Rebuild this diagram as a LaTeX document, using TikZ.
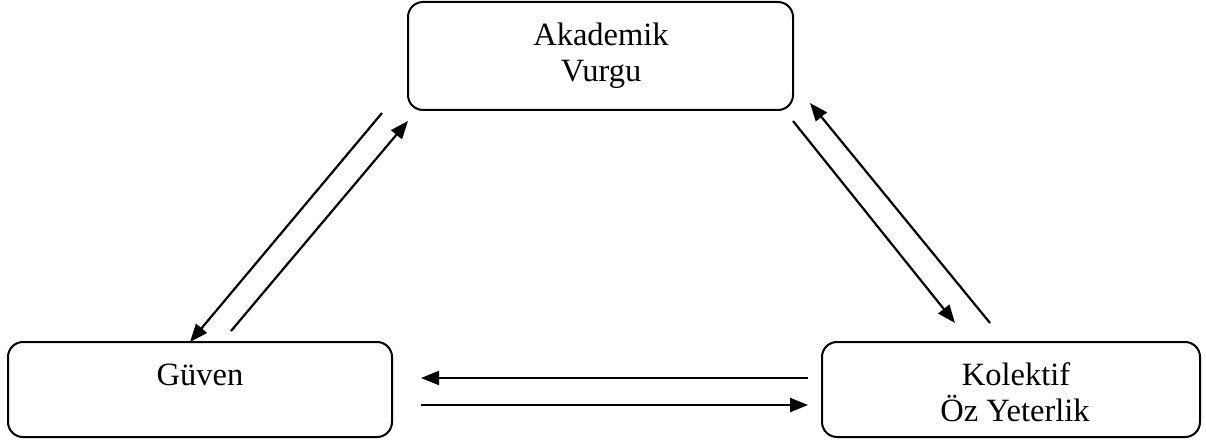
\documentclass[tikz,border=0pt]{standalone}
\usepackage{fontspec}
\setmainfont{Liberation Serif}
\usetikzlibrary{arrows.meta}
\begin{document}
\begin{tikzpicture}[x=1pt,y=-1pt,
  boxstyle/.style={draw, line width=2pt, rounded corners=15pt, inner sep=0pt},
  txt/.style={anchor=base, inner sep=0pt, font=\fontsize{32.5}{37}\selectfont},
  conn/.style={line width=2.2pt, -{Triangle[length=18pt,width=14pt]}}]
\useasboundingbox (0,0) rectangle (1206,443);
% boxes
\node[boxstyle, minimum width=385pt, minimum height=108pt] (ak) at (600.5,56) {};
\node[boxstyle, minimum width=384pt, minimum height=95pt] (gu) at (200,389.5) {};
\node[boxstyle, minimum width=378pt, minimum height=95pt] (ko) at (1011,389.5) {};
% texts
\node[txt] (ak1) at (601,46) {Akademik};
\node[txt] (ak2) at (601,82) {Vurgu};
\node[txt] (gu1) at (200,385) {Güven};
\node[txt] (ko1) at (1016,385) {Kolektif};
\node[txt] (ko2) at (1015,421.5) {Öz Yeterlik};
% connector end points
\coordinate (a1) at (382,113);
\coordinate (g1) at (190,342);
\coordinate (g2) at (231,331);
\coordinate (a2) at (408,121);
\coordinate (a3) at (793,121);
\coordinate (k3) at (955,323);
\coordinate (k4) at (990,323);
\coordinate (a4) at (810,103);
\coordinate (k5) at (808,378);
\coordinate (g5) at (421,378);
\coordinate (g6) at (421,405);
\coordinate (k6) at (808,405);
% connectors
\draw[conn] (a1) -- (g1);
\draw[conn] (g2) -- (a2);
\draw[conn] (a3) -- (k3);
\draw[conn] (k4) -- (a4);
\draw[conn] (k5) -- (g5);
\draw[conn] (g6) -- (k6);
\end{tikzpicture}
\end{document}
